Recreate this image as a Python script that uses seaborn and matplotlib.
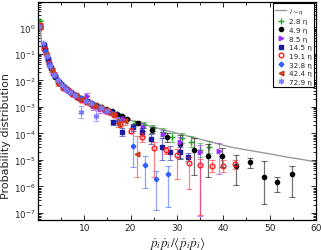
import numpy as np
import matplotlib
matplotlib.use("Agg")
import matplotlib.pyplot as plt
import matplotlib.ticker as mticker
import seaborn as sns
import pandas as pd

# reference curve l ~ eta (log10 of probability)
ref_x = [0.3, 0.8, 1.5, 2.2, 3.0, 3.7, 4.5, 5.5, 6.5, 7.5, 9.0, 11.0, 13.0, 15.0, 17.0, 19.0, 21.0,
         23.0, 25.0, 27.0, 30.0, 33.0, 36.0, 39.0, 42.0, 45.0, 48.0, 51.0, 54.0, 57.0, 60.0]
ref_logp = [0.2, -0.55, -0.9, -1.27, -1.6, -1.85, -2.05, -2.22, -2.38, -2.52, -2.68, -2.84, -2.98,
            -3.13, -3.3, -3.44, -3.56, -3.66, -3.76, -3.86, -3.99, -4.13, -4.26, -4.4, -4.53, -4.62,
            -4.71, -4.8, -4.9, -4.98, -5.08]

# 2.8 eta
x_28 = [0.4, 1.3, 2.2, 3.1, 4.0, 5.0, 6.0, 7.0, 8.0, 9.0, 10.0, 11.0, 12.0, 13.0, 14.0, 15.0, 16.0,
        17.0, 18.0, 18.9, 20.9, 22.9, 24.9, 26.9, 28.9, 31.0, 33.0, 35.0, 37.0]
lp_28 = [0.22, -0.75, -1.25, -1.62, -1.9, -2.12, -2.3, -2.45, -2.57, -2.66, -2.74, -2.82, -2.9, -2.97,
         -3.03, -3.1, -3.18, -3.26, -3.33, -3.44, -3.6, -3.68, -3.8, -3.95, -4.15, -4.18, -4.31, -4.63, -4.52]
dn_28 = [0.04] * 20 + [0.08, 0.1, 0.12, 0.15, 0.18, 0.2, 0.2, 0.25, 0.22]
up_28 = [0.04] * 20 + [0.08, 0.1, 0.12, 0.15, 0.18, 0.2, 0.2, 0.25, 0.22]

# 4.9 eta
x_49 = [0.5, 1.6, 2.7, 3.8, 4.9, 6.0, 7.1, 8.2, 9.3, 10.4, 11.5, 12.6, 13.7, 14.8, 15.9, 17.0, 18.1,
        19.3, 21.7, 24.7, 27.8, 30.6, 33.7, 36.8, 39.7, 42.7, 45.8, 48.8, 51.7, 54.8]
lp_49 = [0.05, -0.82, -1.45, -1.87, -2.13, -2.3, -2.45, -2.56, -2.68, -2.76, -2.85, -2.92, -3.0, -3.08,
         -3.17, -3.27, -3.36, -3.46, -3.62, -3.87, -4.12, -4.4, -4.62, -4.84, -4.86, -5.21, -5.09,
         -5.65, -5.84, -5.53]
dn_49 = [0.04] * 18 + [0.08, 0.12, 0.2, 0.55, 0.94, 0.81, 0.41, 0.72, 0.22, 1.0, 0.37, 0.87]
up_49 = [0.04] * 18 + [0.08, 0.1, 0.15, 0.35, 0.44, 0.44, 0.3, 0.4, 0.15, 0.62, 0.19, 0.32]

# 8.5 eta
x_85 = [0.5, 1.9, 3.3, 4.7, 6.1, 7.5, 8.9, 10.5, 12.0, 13.4, 15.0, 16.6, 18.4, 22.7, 27.0, 30.6, 35.0, 39.0]
lp_85 = [0.0, -1.05, -1.72, -2.1, -2.32, -2.5, -2.66, -2.6, -2.96, -3.08, -3.15, -3.28, -3.46, -3.77,
         -4.02, -4.33, -4.7, -4.68]
dn_85 = [0.05] * 7 + [0.12, 0.15, 0.15, 0.1, 0.1, 0.12, 0.15, 0.15, 0.3, 2.4, 0.85]
up_85 = [0.05] * 7 + [0.12, 0.15, 0.15, 0.1, 0.1, 0.12, 0.15, 0.15, 0.2, 0.25, 0.32]

# 14.5 eta
x_145 = [0.5, 1.3, 2.1, 2.9, 3.7, 4.5, 5.5, 6.5, 7.5, 8.5, 9.5, 10.5, 11.5, 12.5, 13.5, 14.5, 15.5,
         16.3, 18.1, 20.6, 22.5, 24.5, 26.7, 28.5, 30.6, 32.4]
lp_145 = [0.05, -0.68, -1.2, -1.55, -1.85, -2.05, -2.22, -2.38, -2.52, -2.62, -2.72, -2.78, -2.87,
          -2.95, -3.02, -3.1, -3.2, -3.58, -3.93, -3.77, -3.95, -4.21, -4.52, -4.69, -4.71, -4.9]
dn_145 = [0.04] * 17 + [0.1, 0.15, 0.12, 0.15, 0.2, 0.5, 0.3, 0.2, 0.15]
up_145 = [0.04] * 17 + [0.1, 0.15, 0.12, 0.15, 0.2, 0.35, 0.2, 0.2, 0.15]

# 19.1 eta
x_191 = [0.4, 1.4, 2.4, 3.4, 4.4, 5.4, 6.4, 7.4, 8.4, 9.4, 10.4, 11.4, 12.4, 13.4, 14.4, 15.4, 16.4,
         17.8, 20.0, 22.5, 25.0, 27.6, 30.1, 32.6, 35.1, 37.5, 40.0, 42.5]
lp_191 = [0.1, -0.82, -1.35, -1.75, -2.02, -2.27, -2.38, -2.52, -2.62, -2.73, -2.8, -2.9, -2.97, -3.05,
          -3.12, -3.2, -3.3, -3.65, -3.9, -4.12, -4.56, -4.61, -4.81, -5.1, -5.18, -5.21, -5.21, -5.15]
dn_191 = [0.05] * 17 + [0.1, 0.1, 0.2, 1.09, 0.15, 0.9, 0.98, 1.9, 0.25, 0.25, 0.19]
up_191 = [0.05] * 17 + [0.1, 0.1, 0.15, 0.23, 0.1, 0.22, 0.2, 0.22, 0.22, 0.2, 0.16]

# 32.8 eta
x_328 = [0.45, 1.5, 2.5, 3.5, 4.6, 5.7, 6.8, 8.0, 9.2, 10.5, 11.8, 13.1, 14.5, 15.9, 17.4, 20.6, 23.1, 25.6, 28.1]
lp_328 = [0.0, -0.9, -1.4, -1.8, -2.08, -2.26, -2.42, -2.57, -2.68, -2.8, -2.9, -3.0, -3.1, -3.23, -3.55,
          -4.46, -5.18, -5.71, -5.53]
dn_328 = [0.05] * 14 + [0.15, 0.8, 0.88, 1.19, 1.25]
up_328 = [0.05] * 14 + [0.15, 0.7, 0.34, 0.31, 0.32]

# 42.4 eta
x_424 = [0.5, 1.8, 3.1, 4.4, 5.7, 7.0, 8.3, 9.6, 10.9, 12.2, 13.5, 14.8, 16.1, 17.4, 18.7, 21.4]
lp_424 = [0.0, -1.0, -1.62, -2.15, -2.3, -2.42, -2.57, -2.72, -2.85, -2.93, -3.02, -3.1, -3.25, -3.62, -3.55, -4.77]
dn_424 = [0.05] * 13 + [0.15, 0.15, 0.88]
up_424 = [0.05] * 13 + [0.15, 0.15, 0.68]

# 72.9 eta
x_729 = [0.35, 1.1, 1.9, 2.7, 3.5, 4.3, 5.2, 6.1, 7.0, 8.0, 9.2, 10.4, 11.5, 12.5, 13.7, 15.0]
lp_729 = [0.05, -0.6, -1.1, -1.45, -1.78, -2.0, -2.18, -2.33, -2.45, -2.57, -3.2, -2.78, -2.87, -3.33, -3.03, -3.15]
dn_729 = [0.04] * 10 + [0.22, 0.04, 0.04, 0.2, 0.04, 0.04]
up_729 = [0.04] * 10 + [0.22, 0.04, 0.04, 0.2, 0.04, 0.04]

labels = ['2.8 η', '4.9 η', '8.5 η', '14.5 η', '19.1 η', '32.8 η', '42.4 η', '72.9 η']
colors = ['#22a822', '#000000', '#9a30ff', '#1c1ca0', '#ff1f1f', '#2f5cff', '#c8401e', '#7a78ff']
markers = ['+', 'o', '>', 's', 'o', 'D', '<', (6, 2, 0)]
msizes = [5, 3, 3.2, 2.6, 3.4, 2.4, 3.4, 4.0]
filled = [True, True, True, True, False, True, True, True]

series = [(x_28, lp_28, dn_28, up_28), (x_49, lp_49, dn_49, up_49), (x_85, lp_85, dn_85, up_85),
          (x_145, lp_145, dn_145, up_145), (x_191, lp_191, dn_191, up_191),
          (x_328, lp_328, dn_328, up_328), (x_424, lp_424, dn_424, up_424),
          (x_729, lp_729, dn_729, up_729)]

sns.set_style("ticks")
plt.rcParams['font.family'] = ['DejaVu Sans']
plt.rcParams['mathtext.fontset'] = 'stix'

fig = plt.figure(figsize=(3.21, 2.51), dpi=100)
ax = fig.add_axes([0.118, 0.12, 0.866, 0.868])

ref = pd.DataFrame({'x': ref_x, 'p': 10.0 ** np.array(ref_logp)})
sns.lineplot(data=ref, x='x', y='p', color='#9a9a9a', lw=1.0, ax=ax, label='$l\\sim\\eta$')

for (xs, lp, dn, up), lab, c, m, ms, f in zip(series, labels, colors, markers, msizes, filled):
    lp = np.array(lp)
    y = 10.0 ** lp
    lo = y - 10.0 ** (lp - np.array(dn))
    hi = 10.0 ** (lp + np.array(up)) - y
    ax.errorbar(xs, y, yerr=[lo, hi], fmt='none', ecolor=c, alpha=0.55, elinewidth=0.9,
                capsize=2, capthick=0.8)
    ax.plot(xs, y, ls='none', marker=m, color=c, ms=ms, mew=1.0,
            mfc=(c if f else 'none'), label=lab)

ax.set_yscale('log')
ax.set_xlim(0, 60)
ax.set_ylim(5.5e-8, 9)
ax.xaxis.set_major_locator(mticker.FixedLocator([10, 20, 30, 40, 50, 60]))
ax.xaxis.set_minor_locator(mticker.FixedLocator([5, 15, 25, 35, 45, 55]))
ax.yaxis.set_major_locator(mticker.FixedLocator([10.0 ** k for k in range(-7, 1)]))
ax.yaxis.set_major_formatter(mticker.LogFormatterSciNotation())
ax.yaxis.set_minor_locator(mticker.LogLocator(base=10, subs=np.arange(2, 10), numticks=20))
ax.yaxis.set_minor_formatter(mticker.NullFormatter())
ax.tick_params(which='both', direction='in', top=True, right=True, width=0.7)
ax.tick_params(axis='x', labelsize=6.5)
ax.tick_params(axis='y', labelsize=6.2)
ax.tick_params(which='major', length=3.5, pad=2)
ax.tick_params(which='minor', length=2)
for s in ax.spines.values():
    s.set_linewidth(0.9)
    s.set_color('black')

ax.set_ylabel('Probability distribution', fontsize=8, labelpad=0)
ax.yaxis.set_label_coords(-0.095, 0.39)
ax.set_xlabel('$\\dot{p}_i\\dot{p}_i/\\langle\\dot{p}_i\\dot{p}_i\\rangle$', fontsize=9.5)
ax.xaxis.set_label_coords(0.5, -0.065)

leg = ax.legend(loc='upper right', fontsize=5.2, frameon=True, fancybox=False, framealpha=1,
                edgecolor='black', handlelength=1.6, handletextpad=0.4, labelspacing=0.36,
                borderpad=0.3, borderaxespad=0.2)
leg.get_frame().set_linewidth(0.8)

plt.savefig('out.png', dpi=100)
